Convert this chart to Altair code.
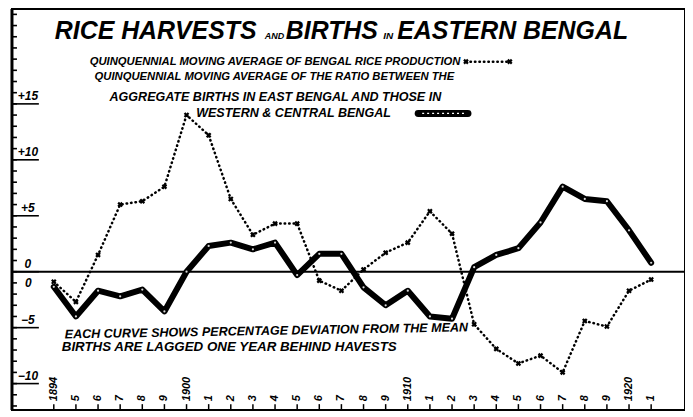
import altair as alt
import pandas as pd

# ---------------- data ----------------
years = list(range(1894, 1922))
births = [-1.35, -4.0, -1.7, -2.2, -1.6, -3.55, 0.0, 2.3, 2.6, 2.0, 2.6, -0.3, 1.6, 1.6,
          -1.4, -3.0, -1.7, -4.0, -4.2, 0.4, 1.5, 2.1, 4.4, 7.6, 6.5, 6.3, 3.7, 0.8]
rice = [-0.9, -2.7, 1.5, 6.0, 6.3, 7.6, 14.0, 12.2, 6.5, 3.3, 4.3, 4.3, -0.8, -1.7,
        0.2, 1.7, 2.6, 5.4, 3.4, -4.7, -6.9, -8.2, -7.5, -9.0, -4.4, -4.9, -1.7, -0.7]
year_labels = ["1894", "5", "6", "7", "8", "9", "1900", "1", "2", "3", "4", "5", "6", "7",
               "8", "9", "1910", "1", "2", "3", "4", "5", "6", "7", "8", "9", "1920", "1"]
y_major = [15, 10, 5, 0, -5, -10]
y_major_labels = ["+15", "+10", "+5", "0", "\u22125", "\u221210"]
y_minor = list(range(-12, 24))

# ---------------- layout ----------------
W, H = 676, 403
OX, OY = 12, 8          # page position of the plot origin
FONT = "Liberation Sans"
X_DOMAIN = [1892.11, 1922.53]
Y_DOMAIN = [-12.37, 23.49]


def PX(x):
    return x - OX


def PY(y):
    return y - OY


xs = alt.Scale(domain=X_DOMAIN, nice=False, zero=False)
ys = alt.Scale(domain=Y_DOMAIN, nice=False, zero=False)

df = pd.DataFrame({"year": years, "births": births, "rice": rice, "label": year_labels})
one = pd.DataFrame({"k": [0]})

X = alt.X("year:Q", scale=xs, axis=None)

zero_line = alt.Chart(pd.DataFrame({"v": [0]})).mark_rule(color="black", strokeWidth=2).encode(
    y=alt.Y("v:Q", scale=ys, axis=None), x=alt.value(0), x2=alt.value(W))

rice_line = alt.Chart(df).mark_line(
    color="black", strokeWidth=2.5, strokeDash=[0.5, 4], strokeCap="round").encode(
    x=X, y=alt.Y("rice:Q", scale=ys, axis=None))
rice_pts = alt.Chart(df).mark_point(
    shape="cross", angle=45, filled=True, size=32, color="black", opacity=1).encode(
    x=X, y=alt.Y("rice:Q", scale=ys, axis=None))

births_line = alt.Chart(df).mark_line(
    color="black", strokeWidth=6, strokeJoin="round", strokeCap="round").encode(
    x=X, y=alt.Y("births:Q", scale=ys, axis=None))
births_pts = alt.Chart(df).mark_circle(color="white", size=5, opacity=0.85).encode(
    x=X, y=alt.Y("births:Q", scale=ys, axis=None))

# y axis decorations (inside the frame)
left_axis = alt.Chart(one).mark_rule(color="black", strokeWidth=3).encode(
    x=alt.value(0), y=alt.value(0), y2=alt.value(H))
minor_ticks = alt.Chart(pd.DataFrame({"v": y_minor})).mark_rule(color="black", strokeWidth=1.6).encode(
    y=alt.Y("v:Q", scale=ys, axis=None), x=alt.value(0), x2=alt.value(5))
ydf = pd.DataFrame({"v": y_major, "t": y_major_labels})
major_ticks = alt.Chart(ydf).mark_rule(color="black", strokeWidth=1.6).encode(
    y=alt.Y("v:Q", scale=ys, axis=None), x=alt.value(0), x2=alt.value(27))
major_labels = alt.Chart(ydf).mark_text(
    font=FONT, fontSize=12, fontWeight="bold", fontStyle="italic", align="center",
    baseline="bottom", dy=-1, color="black").encode(
    y=alt.Y("v:Q", scale=ys, axis=None), x=alt.value(PX(28)), text="t:N")

# x axis decorations
x_ticks = alt.Chart(df).mark_rule(color="black", strokeWidth=1.5).encode(
    x=X, y=alt.value(H), y2=alt.value(H - 6))
x_labels = alt.Chart(df).mark_text(
    font=FONT, fontSize=11, fontWeight="bold", fontStyle="italic", angle=270,
    align="left", baseline="middle", color="black").encode(
    x=X, y=alt.value(PY(402)), text="label:N")


def note(text, x, y, size, baseline="alphabetic", angle=0, font=FONT):
    return alt.Chart(one).mark_text(
        text=text, font=font, fontSize=size, fontWeight="bold", fontStyle="italic",
        align="left", baseline=baseline, angle=angle, color="black").encode(
        x=alt.value(PX(x)), y=alt.value(PY(y)))


texts = [
    note("RICE HARVESTS", 55, 38, 25),
    note("AND", 266, 38, 9),
    note("BIRTHS", 287, 38, 25),
    note("IN", 385, 38, 10),
    note("EASTERN BENGAL", 399, 38, 25),
    note("QUINQUENNIAL MOVING AVERAGE OF BENGAL RICE PRODUCTION", 90, 61, 11.3, baseline="middle"),
    note("QUINQUENNIAL MOVING AVERAGE OF THE RATIO BETWEEN THE", 95, 76, 11.3, baseline="middle"),
    note("AGGREGATE BIRTHS IN EAST BENGAL AND THOSE IN", 110, 97, 12.6, baseline="middle"),
    note("WESTERN & CENTRAL BENGAL", 197, 113, 12.6, baseline="middle"),
    note("EACH CURVE SHOWS PERCENTAGE DEVIATION FROM THE MEAN", 65, 335, 12.6,
         baseline="middle", angle=359),
    note("BIRTHS ARE LAGGED ONE YEAR BEHIND HAVESTS", 62, 348, 13.4, baseline="middle"),
    note("0", 25, 283, 12, baseline="middle"),
]

# legend samples
rice_sample = alt.Chart(one).mark_rule(
    color="black", strokeWidth=2.5, strokeDash=[0.5, 4], strokeCap="round").encode(
    x=alt.value(PX(468)), x2=alt.value(PX(512)), y=alt.value(PY(61)))
rice_sample_pts = alt.Chart(pd.DataFrame({"px": [PX(468), PX(512)]})).mark_point(
    shape="cross", angle=45, filled=True, size=32, color="black", opacity=1).encode(
    x=alt.X("px:Q", scale=None), y=alt.value(PY(61)))
births_sample = alt.Chart(one).mark_rule(
    color="black", strokeWidth=7, strokeCap="round").encode(
    x=alt.value(PX(420)), x2=alt.value(PX(470)), y=alt.value(PY(113)))
births_sample_in = alt.Chart(one).mark_rule(
    color="white", strokeWidth=1.2, strokeDash=[2, 3]).encode(
    x=alt.value(PX(424)), x2=alt.value(PX(466)), y=alt.value(PY(113)))

chart = alt.layer(
    zero_line, left_axis, minor_ticks, major_ticks, major_labels, x_ticks, x_labels,
    rice_line, rice_pts, births_line, births_pts,
    *texts, rice_sample, rice_sample_pts, births_sample, births_sample_in,
).properties(
    width=W, height=H,
    padding={"left": 4, "top": 0, "right": 0, "bottom": 0},
    autosize=alt.AutoSizeParams(type="none"),
    background="white",
).configure_view(stroke="black", strokeWidth=2)

chart.save("out.html", embed_options={"renderer": "svg", "actions": False})
